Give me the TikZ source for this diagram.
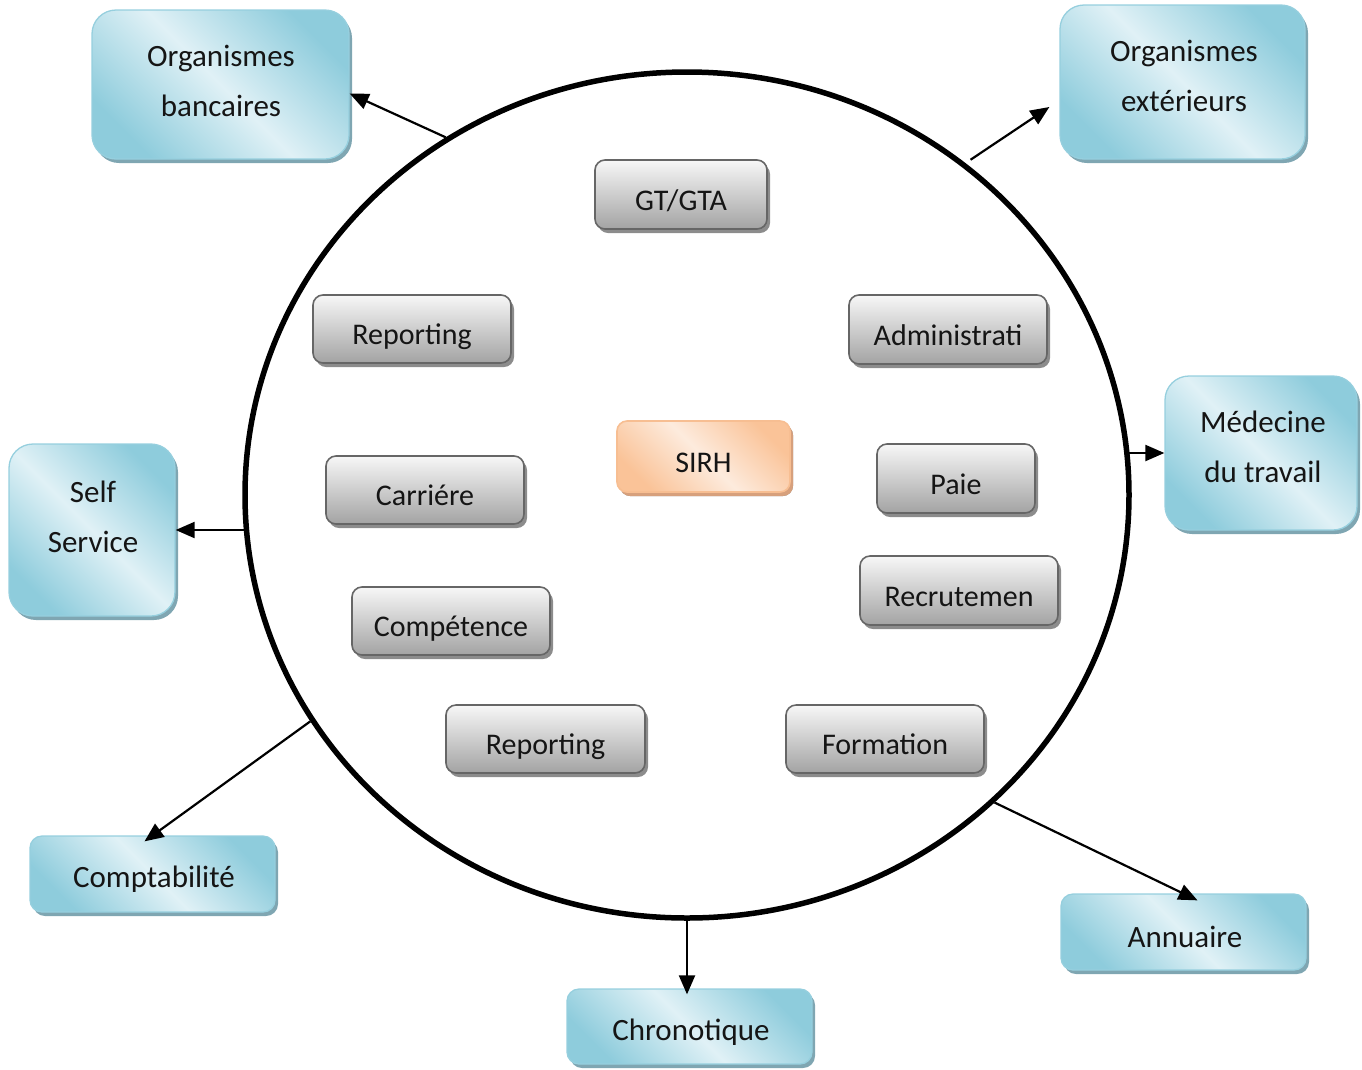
\documentclass[tikz,border=0pt]{standalone}
\usepackage{fontspec}
\setmainfont{Carlito}
\usetikzlibrary{shapes.geometric,shadows,arrows.meta}

\definecolor{bluedge}{HTML}{8ECCDC}
\definecolor{bluelight}{HTML}{E0F1F6}
\definecolor{blueline}{HTML}{96CFDE}
\definecolor{blueshadow}{HTML}{7FA6B2}
\definecolor{greytop}{HTML}{F7F7F7}
\definecolor{greybot}{HTML}{A3A3A3}
\definecolor{greyline}{HTML}{666666}
\definecolor{greyshadow}{HTML}{8C8C8C}
\definecolor{orangedge}{HTML}{FAC398}
\definecolor{orangelight}{HTML}{FDEBDD}
\definecolor{orangeline}{HTML}{F7BE92}
\definecolor{orangeshadow}{HTML}{D7A07C}
\definecolor{inkcol}{HTML}{151515}

\tikzset{
  x=1pt, y=-1pt,
  outerbox/.style={draw=blueline, line width=1.3pt, rounded corners=24pt,
    left color=bluedge, right color=bluedge, middle color=bluelight,
    shading angle=135, inner sep=0pt,
    drop shadow={shadow xshift=3pt, shadow yshift=-4pt, fill=blueshadow, opacity=1}},
  outersmall/.style={outerbox, rounded corners=12pt},
  modbox/.style={draw=greyline, line width=1.6pt, rounded corners=10pt,
    top color=greytop, bottom color=greybot, inner sep=0pt,
    font=\fontsize{30}{36}\selectfont, text=inkcol,
    text height=31pt, text depth=0pt,
    drop shadow={shadow xshift=3pt, shadow yshift=-4pt, fill=greyshadow, opacity=1}},
  corebox/.style={modbox, draw=orangeline, left color=orangedge, right color=orangedge,
    middle color=orangelight, shading angle=135,
    drop shadow={shadow xshift=3pt, shadow yshift=-4pt, fill=orangeshadow, opacity=1}},
  lbl/.style={align=center, text=inkcol, inner sep=0pt,
    font=\fontsize{31}{50}\selectfont},
  link/.style={line width=2.2pt, -{Triangle[length=19pt,width=16pt]}},
}

\begin{document}
\begin{tikzpicture}
\useasboundingbox (0,0) rectangle (1362,1069);

% central ring
\node[ellipse, draw, line width=5.5pt, minimum width=884pt, minimum height=846pt,
      inner sep=0pt] (ring) at (687,495) {};

% surrounding systems
\node[outerbox, minimum width=257pt, minimum height=149pt] (bank) at (220.5,84.5) {};
\node[lbl] (bankT) at (221,81) {Organismes\\bancaires};

\node[outerbox, minimum width=245pt, minimum height=154pt] (ext) at (1182.5,82) {};
\node[lbl] (extT) at (1184,76) {Organismes\\extérieurs};

\node[outerbox, minimum width=192pt, minimum height=154pt] (med) at (1261,453) {};
\node[lbl] (medT) at (1263,447) {Médecine\\du travail};

\node[outerbox, minimum width=166pt, minimum height=172pt] (ss) at (92,530) {};
\node[lbl] (ssT) at (93,517) {Self\\Service};

\node[outersmall, minimum width=245pt, minimum height=76pt] (compta) at (152.5,874) {};
\node[lbl] (comptaT) at (154,879) {Comptabilité};

\node[outersmall, minimum width=245pt, minimum height=75pt] (chrono) at (689.5,1026.5) {};
\node[lbl] (chronoT) at (691,1032) {Chronotique};

\node[outersmall, minimum width=245pt, minimum height=76pt] (annu) at (1183.5,932) {};
\node[lbl] (annuT) at (1185,937) {Annuaire};

% HR modules
\node[modbox, minimum width=172pt, minimum height=69pt] (gta) at (681,194.5) {GT/GTA};
\node[modbox, minimum width=198pt, minimum height=68pt] (rep1) at (412,329) {Reporting};
\node[modbox, minimum width=198pt, minimum height=69pt] (admin) at (948,329.5) {Administrati};
\node[corebox, minimum width=173pt, minimum height=71pt] (sirh) at (703.5,456.5) {SIRH};
\node[modbox, minimum width=158pt, minimum height=69pt] (paie) at (956,478.5) {Paie};
\node[modbox, minimum width=198pt, minimum height=68pt] (carr) at (425,490) {Carriére};
\node[modbox, minimum width=198pt, minimum height=69pt] (recru) at (959,590.5) {Recrutemen};
\node[modbox, minimum width=198pt, minimum height=68pt] (comp) at (451,621) {Compétence};
\node[modbox, minimum width=199pt, minimum height=68pt] (rep2) at (545.5,739) {Reporting};
\node[modbox, minimum width=198pt, minimum height=68pt] (form) at (885,739) {Formation};

% exchanges with the outside
\draw[link] (ring.124.3) -- ([yshift=-9pt]bank.east);
\draw[link, shorten <=6pt] (ring.50.4) -- ([xshift=-10pt,yshift=-25pt]ext.west);
\draw[link, shorten <=-5pt] (ring.east |- med.west) -- (med.west);
\draw[link, shorten <=-3pt] (ring.west |- ss.east) -- (ss.east);
\draw[link] (ring.211.2) -- ([xshift=-8pt,yshift=-6pt]compta.north);
\draw[link, shorten >=-6pt] (ring.south) -- (ring.south |- chrono.north);
\draw[link] (ring.-45.9) -- ([xshift=14pt,yshift=-7pt]annu.north);
\end{tikzpicture}
\end{document}
